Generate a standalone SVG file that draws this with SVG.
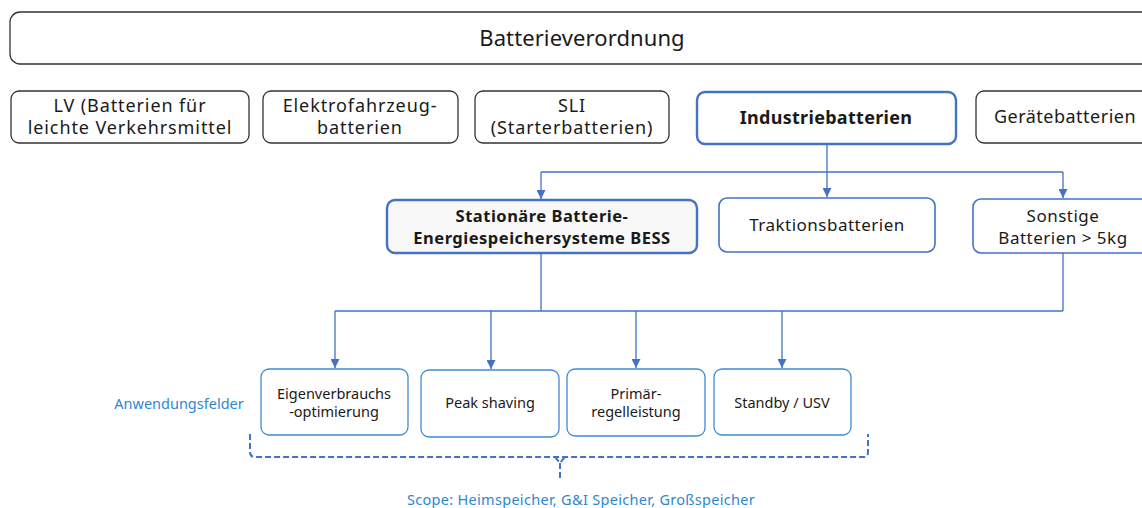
<svg xmlns="http://www.w3.org/2000/svg" width="1142" height="508" viewBox="0 0 1142 508">
<defs>
<marker id="ah" viewBox="0 0 10 10" refX="10" refY="5" markerWidth="9" markerHeight="9" markerUnits="userSpaceOnUse" orient="auto">
<path d="M0,0 L10,5 L0,10 z" fill="#4472c4"/>
</marker>
<style>
text{font-family:"Noto Sans","Liberation Sans",sans-serif;fill:#1a1a1a;text-anchor:middle}
.gray{fill:#fff;stroke:#333;stroke-width:1.3}
.blue{fill:#fff;stroke:#4472c4;stroke-width:1.6}
.blueb{stroke:#4472c4;stroke-width:2.4}
.app{fill:#fff;stroke:#3d8bd4;stroke-width:1.3}
.t17{font-size:18px;letter-spacing:0.9px}
.t15b{font-size:16.5px;font-weight:bold;letter-spacing:0.5px}
.t16{font-size:17px;letter-spacing:0.5px}
.t14{font-size:14.5px}
.lbl{fill:#2f87d1;font-size:14.5px}
.con{fill:none;stroke:#4472c4;stroke-width:1.3}
</style>
</defs>
<g id="root"><rect class="gray" x="10" y="12" width="1150" height="52" rx="10"/><text x="582" y="46" style="font-size:22px;letter-spacing:0.1px">Batterieverordnung</text></g>
<g id="lv"><rect class="gray" x="11" y="91" width="238" height="52" rx="8"/><text class="t17" x="130" y="112">LV (Batterien für</text><text class="t17" x="130" y="134">leichte Verkehrsmittel</text></g>
<g id="ev"><rect class="gray" x="263" y="91" width="195" height="52" rx="8"/><text class="t17" x="360" y="112">Elektrofahrzeug-</text><text class="t17" x="360" y="134">batterien</text></g>
<g id="sli"><rect class="gray" x="475" y="91" width="194" height="52" rx="8"/><text class="t17" x="572" y="112">SLI</text><text class="t17" x="572" y="134">(Starterbatterien)</text></g>
<g id="ind"><rect class="blue blueb" x="697" y="92" width="259" height="52" rx="8"/><text x="826" y="124" style="font-size:18px;font-weight:bold;letter-spacing:0.3px">Industriebatterien</text></g>
<g id="ger"><rect class="gray" x="976" y="91" width="180" height="52" rx="8"/><text x="1065" y="123" style="font-size:18px;letter-spacing:0.5px">Gerätebatterien</text></g>
<g id="bess"><rect class="blue blueb" x="387" y="200" width="310" height="53" rx="8" style="fill:#f8f8f8"/><text class="t15b" x="542" y="222">Stationäre Batterie-</text><text class="t15b" x="542" y="244">Energiespeichersysteme BESS</text></g>
<g id="trak"><rect class="blue" x="719" y="198" width="216" height="54" rx="8"/><text class="t16" x="827" y="231">Traktionsbatterien</text></g>
<g id="sonst"><rect class="blue" x="973" y="199" width="180" height="54" rx="8"/><text class="t16" x="1063" y="222">Sonstige</text><text class="t16" x="1063" y="244">Batterien &gt; 5kg</text></g>
<g id="eigen"><rect class="app" x="261" y="369" width="147" height="66" rx="8"/><text class="t14" x="334" y="399">Eigenverbrauchs</text><text class="t14" x="334" y="417">-optimierung</text></g>
<g id="peak"><rect class="app" x="421" y="370" width="138" height="67" rx="8"/><text class="t14" x="490" y="408">Peak shaving</text></g>
<g id="prim"><rect class="app" x="567" y="369" width="138" height="67" rx="8"/><text class="t14" x="636" y="399">Primär-</text><text class="t14" x="636" y="417">regelleistung</text></g>
<g id="standby"><rect class="app" x="714" y="369" width="137" height="66" rx="8"/><text class="t14" x="782" y="408">Standby / USV</text></g>
<g id="connectors">
<path class="con" d="M827,144 V197" marker-end="url(#ah)"/>
<path class="con" d="M541,172 H1063"/>
<path class="con" d="M541,172 V199" marker-end="url(#ah)"/>
<path class="con" d="M1063,172 V198" marker-end="url(#ah)"/>
<path class="con" d="M541,253 V311"/>
<path class="con" d="M1063,253 V311"/>
<path class="con" d="M335,311 H1063"/>
<path class="con" d="M335,311 V368" marker-end="url(#ah)"/>
<path class="con" d="M491,311 V369" marker-end="url(#ah)"/>
<path class="con" d="M636,311 V368" marker-end="url(#ah)"/>
<path class="con" d="M782,311 V368" marker-end="url(#ah)"/>
</g>
<g id="brace">
<path d="M250,434 V452 Q250,457 255,457 H864 Q868,457 868,452 V434" fill="none" stroke="#4472c4" stroke-width="2" stroke-dasharray="6,3"/>
<path d="M555,457 L560,463 L565,457 M560,463 V480" fill="none" stroke="#4472c4" stroke-width="2" stroke-dasharray="6,3"/>
</g>
<g id="labels">
<text class="lbl" x="179" y="409">Anwendungsfelder</text>
<text class="lbl" x="581" y="505" style="letter-spacing:0.3px">Scope: Heimspeicher, G&amp;I Speicher, Großspeicher</text>
</g>
</svg>
